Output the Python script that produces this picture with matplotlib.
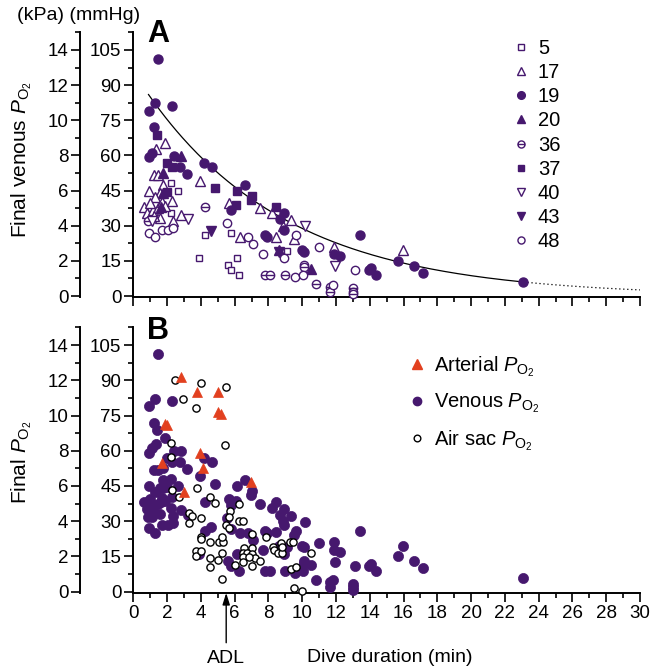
import numpy as np
import matplotlib
matplotlib.use('Agg')
import matplotlib.pyplot as plt
from matplotlib.lines import Line2D
from matplotlib.path import Path

plt.rcParams['font.family'] = ['Liberation Sans', 'DejaVu Sans']
plt.rcParams['mathtext.fontset'] = 'custom'
plt.rcParams['mathtext.rm'] = 'Liberation Sans'
plt.rcParams['mathtext.it'] = 'Liberation Sans:italic'
plt.rcParams['mathtext.bf'] = 'Liberation Sans:bold'

PURPLE = '#46186e'
RED = '#e2401f'

# ---------------- Panel A: final venous PO2 (mmHg) vs dive duration (min), per bird
b5_dur = [2.23, 2.65, 2.23, 4.22, 3.90, 5.80, 5.58, 5.78, 6.14, 6.23, 9.08]
b5_po2 = [48.1, 44.9, 35.6, 25.9, 16.1, 26.8, 13.2, 11.1, 16.1, 9.0, 19.2]

b17_dur = [1.36, 1.87, 1.20, 1.46, 1.76, 0.90, 1.60, 1.31, 0.65, 0.79, 1.15, 1.48, 1.00,
           1.70, 1.90, 2.31, 1.58, 2.37, 2.80, 1.20, 3.96, 5.68, 6.33, 7.52, 8.21, 8.45,
           8.84, 9.36, 9.49, 11.90, 15.94]
b17_po2 = [62.7, 65.4, 51.6, 51.6, 47.4, 44.9, 44.1, 42.3, 38.1, 35.3, 36.7, 37.4, 39.5,
           40.0, 38.5, 40.5, 33.2, 32.1, 34.6, 34.0, 49.2, 39.6, 25.0, 37.4, 35.6, 25.3,
           29.9, 32.4, 24.2, 21.0, 19.6]

b19_dur = [1.46, 1.26, 0.91, 2.31, 1.24, 1.10, 0.95, 2.41, 2.78, 3.20, 4.16, 4.66, 6.63,
           5.78, 7.81, 7.91, 8.90, 8.70, 8.90, 9.99, 10.08, 11.90, 12.25, 13.40, 13.93,
           14.07, 14.37, 15.70, 16.60, 17.13, 23.10]
b19_po2 = [101.0, 82.2, 79.0, 81.0, 72.0, 61.2, 59.2, 59.9, 55.2, 52.2, 56.9, 55.2, 47.4,
           36.7, 26.0, 25.0, 35.3, 32.7, 28.2, 19.6, 18.9, 17.9, 17.1, 26.0, 11.1,
           11.8, 9.0, 15.1, 12.9, 9.9, 6.0]

b20_dur = [1.73, 2.80, 1.64, 1.75, 8.60, 10.53]
b20_po2 = [52.6, 59.8, 38.1, 44.0, 19.6, 11.5]

b36_dur = [0.89, 4.26, 7.81, 8.07, 9.00, 10.08, 10.08, 10.82, 11.62, 11.62, 13.00, 13.00, 13.00]
b36_po2 = [32.0, 38.1, 9.0, 9.0, 9.0, 13.2, 12.2, 5.0, 4.0, 1.8, 3.3, 1.8, 0.85]

b37_dur = [1.42, 1.99, 2.29, 2.00, 4.81, 6.14, 7.03, 6.97, 6.10, 8.45]
b37_po2 = [68.8, 56.9, 55.2, 44.5, 46.0, 44.9, 42.7, 41.0, 38.8, 38.1]

b40_dur = [1.09, 3.21, 10.18, 11.92]
b40_po2 = [32.0, 32.8, 29.7, 12.8]

b43_dur = [4.62, 8.60]
b43_po2 = [27.7, 18.7]

b48_dur = [0.95, 1.26, 1.70, 2.05, 2.33, 5.55, 6.79, 7.10, 7.66, 8.90, 9.65, 9.59, 10.02,
           11.00, 11.85, 13.10]
b48_po2 = [27.0, 25.0, 28.2, 28.2, 29.2, 31.3, 25.0, 22.1, 17.9, 16.1, 26.0, 8.0, 9.0,
           20.8, 4.9, 11.1]

bird_labels = ['5', '17', '19', '20', '36', '37', '40', '43', '48']

# exponential fit  PO2 = A * exp(-k * t)
fit_A = 95.8
fit_k = 0.12
fit_start = 0.9
fit_solid_end = 23.1
fit_end = 30.0

# ---------------- Panel B
art_dur = [2.82, 3.80, 4.99, 4.99, 5.19, 1.88, 1.98, 3.96, 4.10, 1.68, 6.97, 3.03]
art_po2 = [91.6, 84.8, 84.8, 76.7, 75.7, 71.4, 70.9, 58.9, 52.8, 54.9, 46.7, 42.6]

air_dur = [2.48, 4.00, 5.51, 2.93, 3.73, 5.41, 2.24, 2.26, 2.28, 2.72, 3.77, 4.56, 4.85,
           3.27, 3.50, 3.27, 4.00, 5.70, 5.65, 5.49, 5.65, 4.00, 4.00, 4.52, 5.05, 5.29,
           5.25, 3.73, 3.73, 4.02, 5.25, 4.52, 4.99, 4.52, 5.25, 6.24, 6.28, 6.52, 7.03,
           7.83, 6.58, 7.00, 6.48, 6.74, 7.00, 7.23, 7.53, 6.50, 6.83, 6.50, 7.00, 6.04,
           8.26, 8.32, 8.56, 8.82, 8.76, 8.82, 9.25, 9.45, 9.31, 9.61, 10.50, 9.51, 10.00]
air_po2 = [90.2, 89.0, 87.3, 82.1, 78.1, 62.3, 63.2, 57.5, 43.3, 40.5, 44.3, 40.5, 37.6,
           33.6, 32.2, 29.4, 31.3, 34.5, 31.9, 28.4, 27.3, 23.4, 22.3, 21.3, 21.3, 21.3,
           23.4, 17.3, 15.2, 17.3, 16.4, 14.2, 13.5, 10.4, 5.5, 37.4, 30.2, 30.2, 24.4,
           23.4, 18.5, 18.5, 16.6, 16.6, 16.0, 14.2, 13.2, 14.6, 14.9, 12.8, 10.9, 11.4,
           19.2, 17.8, 16.4, 16.4, 20.6, 19.2, 21.2, 21.2, 9.5, 10.4, 16.6, 1.4, 0.4]

adl_min = 5.5

# ---------------- figure
W, H = 653, 672
fig = plt.figure(figsize=(W / 100, H / 100), dpi=100)


def axrect(x0, x1, ytop, ybot):
    return [x0 / W, 1 - ybot / H, (x1 - x0) / W, (ybot - ytop) / H]


axA = fig.add_axes(axrect(133.3, 640, 32.4, 297.2))
axB = fig.add_axes(axrect(133.3, 640, 327.4, 592.9))

TICK_FS = 13.5


def style(ax, xlabels):
    ax.set_xlim(0, 30)
    ax.set_ylim(-0.5, 112.5)
    for s in ['top', 'right']:
        ax.spines[s].set_visible(False)
    for s in ['left', 'bottom']:
        ax.spines[s].set_linewidth(1.4)
    ax.set_xticks(np.arange(0, 31, 2))
    ax.set_xticks(np.arange(0, 31, 1), minor=True)
    ax.set_yticks(np.arange(0, 106, 15))
    ax.set_yticks(np.arange(0, 113, 7.5), minor=True)
    ax.tick_params(which='major', direction='out', length=6.5, width=1.2,
                   labelsize=TICK_FS, pad=2)
    ax.tick_params(which='minor', direction='out', length=3.5, width=1.2)
    if not xlabels:
        ax.tick_params(axis='x', labelbottom=False)
    sec = ax.secondary_yaxis(-53 / 506.7, functions=(lambda m: m / 7.5, lambda k: k * 7.5))
    sec.set_yticks(np.arange(0, 15, 2))
    sec.set_yticks(np.arange(1, 16, 2), minor=True)
    sec.spines['left'].set_linewidth(1.4)
    sec.tick_params(which='major', direction='out', length=6.5, width=1.2,
                    labelsize=TICK_FS, pad=2)
    sec.tick_params(which='minor', direction='out', length=3.5, width=1.2)
    return sec


style(axA, False)
style(axB, True)

# circle with a horizontal bar marker
theta_marker = Path.make_compound_path(
    Path.unit_circle(), Path([[-1, 0], [1, 0]], [Path.MOVETO, Path.LINETO]))

series = [
    (b5_dur, b5_po2, 's', False, 5.0),
    (b17_dur, b17_po2, '^', False, 6.5),
    (b19_dur, b19_po2, 'o', True, 6.5),
    (b20_dur, b20_po2, '^', True, 6.5),
    (b36_dur, b36_po2, theta_marker, False, 6.0),
    (b37_dur, b37_po2, 's', True, 5.5),
    (b40_dur, b40_po2, 'v', False, 6.5),
    (b43_dur, b43_po2, 'v', True, 6.5),
    (b48_dur, b48_po2, 'o', False, 6.0),
]

handlesA = []
for (d, p, m, filled, ms), lab in zip(series, bird_labels):
    kw = dict(marker=m, ms=ms, mfc=PURPLE if filled else 'white', mec=PURPLE,
              mew=1.0, ls='none')
    axA.plot(d, p, clip_on=False, zorder=3, **kw)
    handlesA.append(Line2D([], [], **dict(kw, ms=ms * 0.85)))

t_solid = np.linspace(fit_start, fit_solid_end, 200)
t_dot = np.linspace(fit_solid_end, fit_end, 60)
axA.plot(t_solid, fit_A * np.exp(-fit_k * t_solid), color='black', lw=0.9, zorder=2)
axA.plot(t_dot, fit_A * np.exp(-fit_k * t_dot), color='black', lw=0.9, ls=(0, (1, 2.2)),
         zorder=2)

axA.legend(handlesA, bird_labels, loc='upper left', bbox_to_anchor=(0.7488, 0.975),
           frameon=False, fontsize=14.5, handlelength=0.8, handletextpad=0.45,
           labelspacing=0.255, borderpad=0, borderaxespad=0)

# Panel B
venous_dur = (b5_dur + b17_dur + b19_dur + b20_dur + b36_dur + b37_dur + b40_dur
              + b43_dur + b48_dur)
venous_po2 = (b5_po2 + b17_po2 + b19_po2 + b20_po2 + b36_po2 + b37_po2 + b40_po2
              + b43_po2 + b48_po2)

axB.plot(venous_dur, venous_po2, 'o', ms=7.3, mfc=PURPLE, mec=PURPLE, mew=0.5,
         ls='none', zorder=3, clip_on=False)
axB.plot(air_dur, air_po2, 'o', ms=5.2, mfc='white', mec='black', mew=1.0,
         ls='none', zorder=4, clip_on=False)
axB.plot(art_dur, art_po2, '^', ms=7.5, mfc=RED, mec=RED, mew=0.5,
         ls='none', zorder=5, clip_on=False)

P = r'$\mathit{P}_{\mathrm{O}_2}$'
handlesB = [
    Line2D([], [], marker='^', ms=6.5, mfc=RED, mec=RED, ls='none'),
    Line2D([], [], marker='o', ms=6.0, mfc=PURPLE, mec=PURPLE, ls='none'),
    Line2D([], [], marker='o', ms=4.8, mfc='white', mec='black', mew=1.0, ls='none'),
]
axB.legend(handlesB, ['Arterial ' + P, 'Venous ' + P, 'Air sac ' + P],
           loc='upper left', bbox_to_anchor=(0.5445, 0.90), frameon=False,
           fontsize=14.5, handlelength=0.8, handletextpad=0.45, labelspacing=0.65,
           borderpad=0, borderaxespad=0)

axB.annotate('ADL', xy=(adl_min, -0.5), xycoords='data', xytext=(0, -47),
             textcoords='offset points', ha='center', va='center', fontsize=14,
             annotation_clip=False,
             arrowprops=dict(arrowstyle='-|>,head_length=0.7,head_width=0.22',
                             color='black', lw=1.0, shrinkA=3, shrinkB=0,
                             mutation_scale=10))

fig.text(390 / W, 1 - 658 / H, 'Dive duration (min)', ha='center', va='center',
         fontsize=14)
fig.text(79 / W, 1 - 16 / H, '(kPa) (mmHg)', ha='center', va='center', fontsize=14)
fig.text(22 / W, 1 - 160 / H, 'Final venous ' + P, ha='center', va='center',
         rotation=90, fontsize=15)
fig.text(22 / W, 1 - 462 / H, 'Final ' + P, ha='center', va='center',
         rotation=90, fontsize=15)
fig.text(147 / W, 1 - 42 / H, 'A', ha='left', va='baseline', fontsize=22,
         fontweight='bold')
fig.text(147 / W, 1 - 339 / H, 'B', ha='left', va='baseline', fontsize=22,
         fontweight='bold')

fig.savefig('out.png', dpi=100)
